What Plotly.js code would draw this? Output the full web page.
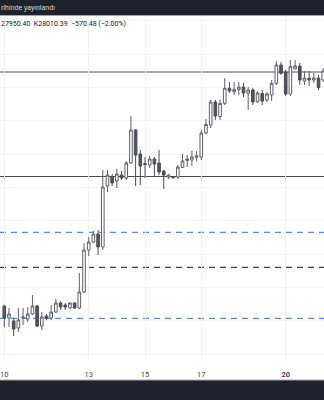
<!DOCTYPE html>
<html>
<head>
<meta charset="utf-8">
<script src="https://cdn.plot.ly/plotly-3.0.1.min.js"></script>
<style>
html,body{margin:0;padding:0;background:#fff;}
#chart{width:324px;height:400px;}
</style>
</head>
<body>
<div id="chart"></div>
<script>
const times = [
'2023-10-10 00:00','2023-10-10 04:00','2023-10-10 08:00','2023-10-10 12:00','2023-10-10 16:00','2023-10-10 20:00',
'2023-10-11 00:00','2023-10-11 04:00','2023-10-11 08:00','2023-10-11 12:00','2023-10-11 16:00','2023-10-11 20:00',
'2023-10-12 00:00','2023-10-12 04:00','2023-10-12 08:00','2023-10-12 12:00','2023-10-12 16:00','2023-10-12 20:00',
'2023-10-13 00:00','2023-10-13 04:00','2023-10-13 08:00','2023-10-13 12:00','2023-10-13 16:00','2023-10-13 20:00',
'2023-10-14 00:00','2023-10-14 04:00','2023-10-14 08:00','2023-10-14 12:00','2023-10-14 16:00','2023-10-14 20:00',
'2023-10-15 00:00','2023-10-15 04:00','2023-10-15 08:00','2023-10-15 12:00','2023-10-15 16:00','2023-10-15 20:00',
'2023-10-16 00:00','2023-10-16 04:00','2023-10-16 08:00','2023-10-16 12:00','2023-10-16 16:00','2023-10-16 20:00',
'2023-10-17 00:00','2023-10-17 04:00','2023-10-17 08:00','2023-10-17 12:00','2023-10-17 16:00','2023-10-17 20:00',
'2023-10-18 00:00','2023-10-18 04:00','2023-10-18 08:00','2023-10-18 12:00','2023-10-18 16:00','2023-10-18 20:00',
'2023-10-19 00:00','2023-10-19 04:00','2023-10-19 08:00','2023-10-19 12:00','2023-10-19 16:00','2023-10-19 20:00',
'2023-10-20 00:00','2023-10-20 04:00','2023-10-20 08:00','2023-10-20 12:00','2023-10-20 16:00','2023-10-20 20:00',
'2023-10-21 00:00','2023-10-21 04:00','2023-10-21 08:00'
];

const open = [27660,27540,27510,27440,27540,27530,27580,27660,27460,27560,
27540,27600,27690,27670,27640,27690,27640,27800,28220,28300,
28380,28250,28860,28950,28910,28970,28940,29090,29420,29180,
29085,29070,29130,29090,29010,28950,28955,28950,29045,29115,
29120,29147,29150,29390,29470,29700,29555,29687,29837,29803,
29825,29850,29787,29820,29703,29785,29720,29770,29887,30070,
30000,29780,30030,30060,29910,29937,29920,29940,29920];

const high = [27670,27640,27540,27640,27640,27650,27770,27670,27600,27580,
27670,27730,27710,27690,27700,27700,27990,28290,28350,28410,
28420,29020,29020,28980,29030,29010,29110,29560,29430,29220,
29150,29160,29150,29220,29020,28980,28960,29070,29180,29170,
29210,29210,29420,29530,29720,29720,29720,29940,29900,29900,
29900,29890,29850,29840,29810,29820,29800,29920,30110,30100,
30020,30120,30120,30090,30010,30010,29990,29970,30040];

const low = [27450,27450,27360,27400,27470,27500,27570,27450,27420,27520,
27520,27590,27620,27620,27630,27630,27630,27790,28160,28290,
28170,28220,28800,28860,28840,28920,28920,29080,28860,28870,
28940,29040,28950,28970,28830,28930,28930,28930,29040,29050,
29060,29110,29120,29380,29440,29520,29520,29670,29790,29770,
29770,29750,29620,29670,29690,29670,29700,29710,29870,29970,
29760,29760,30030,29870,29870,29860,29890,29820,29900];

const close = [27540,27580,27430,27520,27550,27580,27660,27460,27550,27540,
27600,27690,27650,27650,27690,27640,27800,28220,28300,28380,
28250,28850,28970,28890,28980,28940,29090,29420,29170,29060,
29075,29130,29080,29000,28970,28970,28945,29050,29110,29130,
29150,29160,29390,29475,29700,29560,29685,29837,29810,29827,
29850,29790,29820,29700,29790,29710,29780,29887,30070,29987,
29780,30053,30060,29920,29940,29920,29940,29845,30010];

const solidLevels = [30000, 28955];
const blueDashedLevels = [28397, 27537];
const darkDashedLevels = [28047];

const tickDates = ['2023-10-10','2023-10-13','2023-10-15','2023-10-17','2023-10-20'];
const tickLabels = ['10','13','15','17','<b>20</b>'];

const topCaption = 'rihinde yayınlandı';
const headerText = '27950.40  K28010.39  −570.48 (−2.00%)';

const trace = {
  type: 'candlestick',
  x: times, open: open, high: high, low: low, close: close,
  increasing: {line: {color: '#5d606b', width: 1}, fillcolor: '#ffffff'},
  decreasing: {line: {color: '#4b4e59', width: 1}, fillcolor: '#50535e'},
  whiskerwidth: 0,
  hoverinfo: 'skip',
  showlegend: false
};

const shapes = [];
solidLevels.forEach(v => shapes.push({type:'line', xref:'paper', x0:0, x1:1, yref:'y', y0:v, y1:v, line:{color:'#4a4c55', width:1}, layer:'below'}));
blueDashedLevels.forEach(v => shapes.push({type:'line', xref:'paper', x0:0, x1:1, yref:'y', y0:v, y1:v, line:{color:'#5b86f0', width:1.2, dash:'6px,5px'}, layer:'below'}));
darkDashedLevels.forEach(v => shapes.push({type:'line', xref:'paper', x0:0, x1:1, yref:'y', y0:v, y1:v, line:{color:'#2c3f70', width:1.2, dash:'6px,5px'}, layer:'below'}));

const H = 344, B = 360;
const py = Y => (B - Y) / H;
shapes.push({type:'rect', xref:'paper', yref:'paper', x0:-0.01, x1:1.01, y0:py(15), y1:py(-1), fillcolor:'#1e222d', line:{width:0}, layer:'above'});
shapes.push({type:'line', xref:'paper', yref:'paper', x0:-0.01, x1:1.01, y0:py(15.5), y1:py(15.5), line:{color:'#a3a6af', width:1}, layer:'above'});
shapes.push({type:'rect', xref:'paper', yref:'paper', x0:-0.01, x1:1.01, y0:py(401), y1:py(380), fillcolor:'#1e222d', line:{width:0}, layer:'above'});
shapes.push({type:'line', xref:'paper', yref:'paper', x0:-0.01, x1:1.01, y0:py(380), y1:py(380), line:{color:'#a3a6af', width:1}, layer:'above'});

const layout = {
  width: 324, height: 400,
  margin: {l:0, r:0, t:16, b:40, pad:0},
  paper_bgcolor: '#ffffff', plot_bgcolor: '#ffffff',
  showlegend: false,
  boxgap: 0.2,
  font: {family: 'Roboto, "Noto Sans", sans-serif', color: '#434651', size: 7},
  xaxis: {
    type: 'date',
    range: ['2023-10-09 20:20', '2023-10-21 08:40'],
    rangeslider: {visible: false},
    tickmode: 'array', tickvals: tickDates, ticktext: tickLabels,
    ticklabeloverflow: 'allow',
    showgrid: true, gridcolor: '#f0f1f4', gridwidth: 1,
    zeroline: false, showline: false,
    ticks: 'outside', ticklen: 7, tickcolor: 'rgba(0,0,0,0)',
    tickfont: {size: 7.5, color: '#434651'},
    fixedrange: true
  },
  yaxis: {
    range: [27120, 30560],
    showticklabels: false,
    tick0: 30513, dtick: 333.3,
    showgrid: true, gridcolor: '#f3f4f7', gridwidth: 1,
    zeroline: false, showline: false, ticks: '',
    fixedrange: true
  },
  shapes: shapes,
  annotations: [
    {xref:'paper', yref:'paper', x:0, y:py(8), xanchor:'left', yanchor:'middle', xshift:-1, showarrow:false,
     text: topCaption, font:{size:7, color:'#d1d4dc'}},
    {xref:'paper', yref:'paper', x:0, y:py(24), xanchor:'left', yanchor:'middle', xshift:-1, showarrow:false,
     text: headerText, font:{size:7, color:'#131722'}}
  ]
};

Plotly.newPlot('chart', [trace], layout, {displayModeBar:false, staticPlot:true});
</script>
</body>
</html>
